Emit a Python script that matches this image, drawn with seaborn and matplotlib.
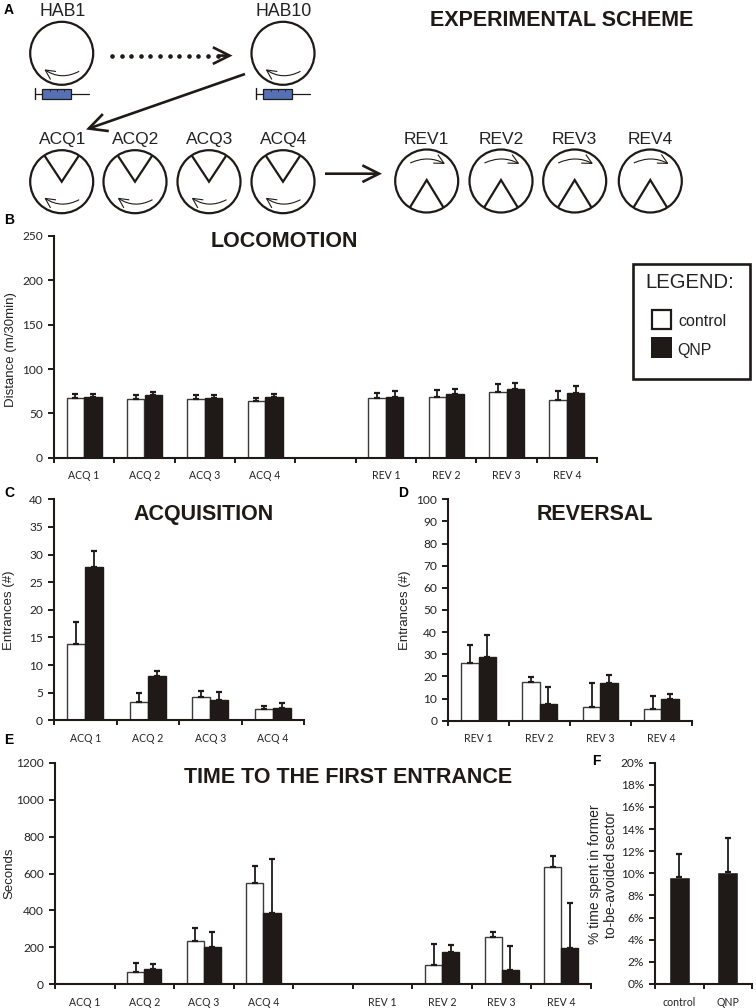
import numpy as np
import pandas as pd
import matplotlib
matplotlib.use("Agg")
import matplotlib.pyplot as plt
import seaborn as sns
from matplotlib.patches import Circle, Rectangle, FancyArrowPatch

# values; *_top is the upper end of the error bar
acq = ["ACQ 1", "ACQ 2", "ACQ 3", "ACQ 4"]
rev = ["REV 1", "REV 2", "REV 3", "REV 4"]
all_sessions = acq + [" "] + rev

loco_control = [67.7, 65.8, 65.8, 64.0, 67.7, 68.0, 74.4, 65.4]
loco_control_top = [71.8, 71.0, 70.3, 67.3, 73.3, 76.3, 83.0, 74.8]
loco_qnp = [68.0, 70.7, 67.3, 68.8, 68.8, 71.8, 77.8, 73.0]
loco_qnp_top = [71.4, 74.0, 70.7, 72.2, 75.6, 77.4, 84.2, 80.5]

acqu_control = [13.9, 3.3, 4.3, 2.0]
acqu_control_top = [17.8, 5.0, 5.3, 2.5]
acqu_qnp = [27.7, 8.1, 3.6, 2.3]
acqu_qnp_top = [30.6, 8.9, 5.1, 3.1]

rev_control = [26.2, 17.3, 6.3, 5.3]
rev_control_top = [34.0, 19.9, 17.0, 11.1]
rev_qnp = [28.6, 7.7, 17.0, 9.6]
rev_qnp_top = [38.6, 15.2, 20.5, 12.0]

first_control = [np.nan, 68.6, 236, 549, np.nan, 106, 256, 637]
first_control_top = [np.nan, 117, 305, 639, np.nan, 216, 281, 693]
first_qnp = [np.nan, 83, 200, 386, np.nan, 173, 79, 195]
first_qnp_top = [np.nan, 110, 283, 680, np.nan, 215, 209, 442]

former_groups = ["control", "QNP"]
former_values = [9.67, 10.15]
former_tops = [11.75, 13.2]

DARK = "#1f1a17"
W, H = 756, 1008
sans = "Liberation Sans"
tickfont = "Lato"

sns.set_theme(style="white", rc={"font.family": sans, "axes.linewidth": 1.2})
fig = plt.figure(figsize=(W / 100, H / 100), dpi=100, facecolor="white")


def px_axes(left, top, right, bottom):
    return fig.add_axes([left / W, 1 - bottom / H, (right - left) / W, (bottom - top) / H])


def bar_panel(ax, order, sessions, control, control_top, qnp, qnp_top, ymax, step):
    df = pd.DataFrame({
        "session": list(sessions) * 2,
        "group": ["control"] * len(sessions) + ["QNP"] * len(sessions),
        "value": list(control) + list(qnp),
        "top": list(control_top) + list(qnp_top),
    }).dropna()
    sns.barplot(data=df, x="session", y="value", hue="group", order=order,
                hue_order=["control", "QNP"], palette={"control": "white", "QNP": DARK},
                saturation=1, width=0.575, gap=0, errorbar=None, legend=False, ax=ax)
    for container, group in zip(ax.containers, ["control", "QNP"]):
        tops = df[df.group == group].set_index("session")["top"]
        for bar in container:
            x = bar.get_x() + bar.get_width() / 2
            session = order[int(round(x))]
            if session not in tops.index:
                continue
            bar.set_edgecolor("#3a3a3a" if group == "control" else DARK)
            bar.set_linewidth(1.0)
            y = bar.get_height()
            ax.errorbar([x], [y], yerr=[[0], [tops[session] - y]], color=DARK, lw=1.3,
                        capsize=2.5, capthick=1.6, zorder=4)
    style_axes(ax, order, ymax, step)


def style_axes(ax, order, ymax, step):
    n = len(order)
    ax.set_xlim(-0.5, n - 0.5)
    ax.set_ylim(0, ymax)
    ax.set_yticks(np.arange(0, ymax + step / 2, step))
    ax.set_xticks(np.arange(n + 1) - 0.5)
    ax.set_xticklabels([])
    ax.set_xticks(np.arange(n), labels=order, minor=True)
    ax.tick_params(axis="x", which="major", length=3.5, width=1.4, color=DARK, bottom=True)
    ax.tick_params(axis="x", which="minor", length=0, pad=9, labelsize=7.6, labelcolor="#222222")
    ax.tick_params(axis="y", length=4, width=1.4, color=DARK, left=True, pad=4,
                   labelsize=8.6, labelcolor="#222222")
    for label in ax.get_xticklabels(minor=True) + ax.get_yticklabels():
        label.set_family(tickfont)
    ax.set_xlabel("")
    ax.set_ylabel("")
    sns.despine(ax=ax)
    for side in ["left", "bottom"]:
        ax.spines[side].set_color(DARK)
        ax.spines[side].set_linewidth(1.5)
    ax.patch.set_alpha(0)


ax_b = px_axes(54, 236, 597, 457.7)
bar_panel(ax_b, all_sessions, acq + rev, loco_control, loco_control_top, loco_qnp, loco_qnp_top, 250, 50)

ax_c = px_axes(54, 499.3, 304, 720.3)
bar_panel(ax_c, acq, acq, acqu_control, acqu_control_top, acqu_qnp, acqu_qnp_top, 40, 5)

ax_d = px_axes(448.3, 499.3, 691.7, 720.7)
bar_panel(ax_d, rev, rev, rev_control, rev_control_top, rev_qnp, rev_qnp_top, 100, 10)

ax_e = px_axes(55, 762.7, 591, 984.3)
bar_panel(ax_e, all_sessions, acq + rev, first_control, first_control_top, first_qnp, first_qnp_top, 1200, 200)

ax_f = px_axes(655.3, 762.7, 752, 984)
df_f = pd.DataFrame({"group": former_groups, "value": former_values, "top": former_tops})
sns.barplot(data=df_f, x="group", y="value", color=DARK, saturation=1, width=0.43,
            errorbar=None, ax=ax_f)
for bar, top in zip(ax_f.containers[0], former_tops):
    x = bar.get_x() + bar.get_width() / 2
    y = bar.get_height()
    ax_f.errorbar([x], [y], yerr=[[0], [top - y]], color=DARK, lw=1.3, capsize=2.5, capthick=1.6)
style_axes(ax_f, former_groups, 20, 2)
ax_f.set_yticks(np.arange(0, 21, 2), labels=[f"{v}%" for v in range(0, 21, 2)])
for label in ax_f.get_yticklabels():
    label.set_family(tickfont)

# overlay in pixel coordinates for the scheme, titles and panel letters
ov = fig.add_axes([0, 0, 1, 1], zorder=10)
ov.set_xlim(0, W)
ov.set_ylim(H, 0)
ov.axis("off")
ov.patch.set_alpha(0)


def txt(x, y, s, size=12, weight="normal", ha="center", rotation=0, color="#222222", linespacing=1.1):
    if rotation == 0:
        y = y + 1.3
    ov.text(x, y, s, fontsize=size, fontweight=weight, ha=ha, va="center", rotation=rotation,
            color=color, family=sans, rotation_mode="anchor", linespacing=linespacing)


def arrow(p0, p1, lw=1.9, head=12, rad=0.0):
    ov.add_patch(FancyArrowPatch(p0, p1, arrowstyle=f"->,head_length={head / 10:.2f},head_width={head / 20:.2f}",
                                 mutation_scale=10, lw=lw, color=DARK, shrinkA=0, shrinkB=0,
                                 connectionstyle=f"arc3,rad={rad}", joinstyle="miter", capstyle="butt"))


def dish(cx, cy, kind):
    ov.add_patch(Circle((cx, cy), 31.5, fill=False, ec=DARK, lw=1.6))
    if kind == "rev":
        ov.plot([cx - 16.5, cx, cx + 16.5], [cy + 26, cy - 1, cy + 26], color=DARK, lw=1.6, solid_joinstyle="miter")
        arrow((cx - 16.5, cy - 18), (cx + 18.5, cy - 17), lw=0.8, head=7, rad=-0.25)
    else:
        if kind == "acq":
            ov.plot([cx - 16.5, cx, cx + 16.5], [cy - 25, cy, cy - 25], color=DARK, lw=1.6, solid_joinstyle="miter")
        arrow((cx + 17.5, cy + 18), (cx - 17.5, cy + 16), lw=0.8, head=7, rad=-0.3)


def syringe(cx, cy):
    ov.add_patch(Rectangle((cx - 20, cy + 35.5), 29, 10, fc="#5570b4", ec=DARK, lw=0.9))
    ov.plot([cx - 27, cx - 20], [cy + 40.5, cy + 40.5], color=DARK, lw=0.9)
    ov.plot([cx - 27, cx - 27], [cy + 35, cy + 46], color=DARK, lw=1.0)
    ov.plot([cx + 9, cx + 27], [cy + 40.5, cy + 40.5], color=DARK, lw=0.9)
    for dx in [-12, -5, 2]:
        ov.plot([cx + dx, cx + dx], [cy + 35.5, cy + 38], color=DARK, lw=0.6)


for cx, name in zip([61.7, 283], ["HAB1", "HAB10"]):
    dish(cx, 53.3, "hab")
    syringe(cx, 53.3)
    txt(cx + 1, 10, name, size=12.7)

ov.plot(np.arange(112, 219, 9.6), [55.6] * 12, ls="none", marker="o", ms=2.3, color=DARK)
arrow((218, 55.6), (232.5, 55.6), lw=1.9, head=12)
arrow((245, 74), (86, 129.5), lw=1.9, head=13)
arrow((325, 173.7), (382, 173.7), lw=1.9, head=12)

for cx, name in zip([61.7, 135, 209, 283], ["ACQ1", "ACQ2", "ACQ3", "ACQ4"]):
    dish(cx, 181.7, "acq")
    txt(cx + 1, 138, name, size=12.5)
for cx, name in zip([426.7, 501, 574.7, 650.3], ["REV1", "REV2", "REV3", "REV4"]):
    dish(cx, 181, "rev")
    txt(cx, 138, name, size=12.5)

txt(562, 19, "EXPERIMENTAL SCHEME", size=15.5, weight="bold", color=DARK)
txt(284.5, 240, "LOCOMOTION", size=15.5, weight="bold", color=DARK)
txt(204, 513, "ACQUISITION", size=15.5, weight="bold", color=DARK)
txt(595, 513, "REVERSAL", size=15.5, weight="bold", color=DARK)
txt(348, 776, "TIME TO THE FIRST ENTRANCE", size=15.5, weight="bold", color=DARK)

txt(11.5, 350, "Distance (m/30min)", size=9.5, rotation=90)
txt(9.5, 610, "Entrances (#)", size=9.5, rotation=90)
txt(405, 610, "Entrances (#)", size=9.5, rotation=90)
txt(9, 873, "Seconds", size=9.5, rotation=90)
txt(603, 874, "% time spent in former\nto-be-avoided sector", size=10, rotation=90)

for x, y, s in [(9, 9, "A"), (9, 219, "B"), (9, 492, "C"), (403, 492, "D"), (9, 739, "E"), (596, 760, "F")]:
    txt(x, y, s, size=10, weight="bold", color="black")

# legend box
ov.add_patch(Rectangle((633, 264), 116.5, 115, fill=False, ec=DARK, lw=1.9))
txt(690, 281, "LEGEND:", size=14.6)
ov.add_patch(Rectangle((651.5, 309.5), 19, 19, fc="white", ec=DARK, lw=1.6))
ov.add_patch(Rectangle((650.5, 337), 21, 21, fc=DARK, ec=DARK, lw=0))
txt(678, 320, "control", size=11.5, ha="left")
txt(677, 349, "QNP", size=11.5, ha="left")

fig.savefig("out.png", dpi=100, facecolor="white")
